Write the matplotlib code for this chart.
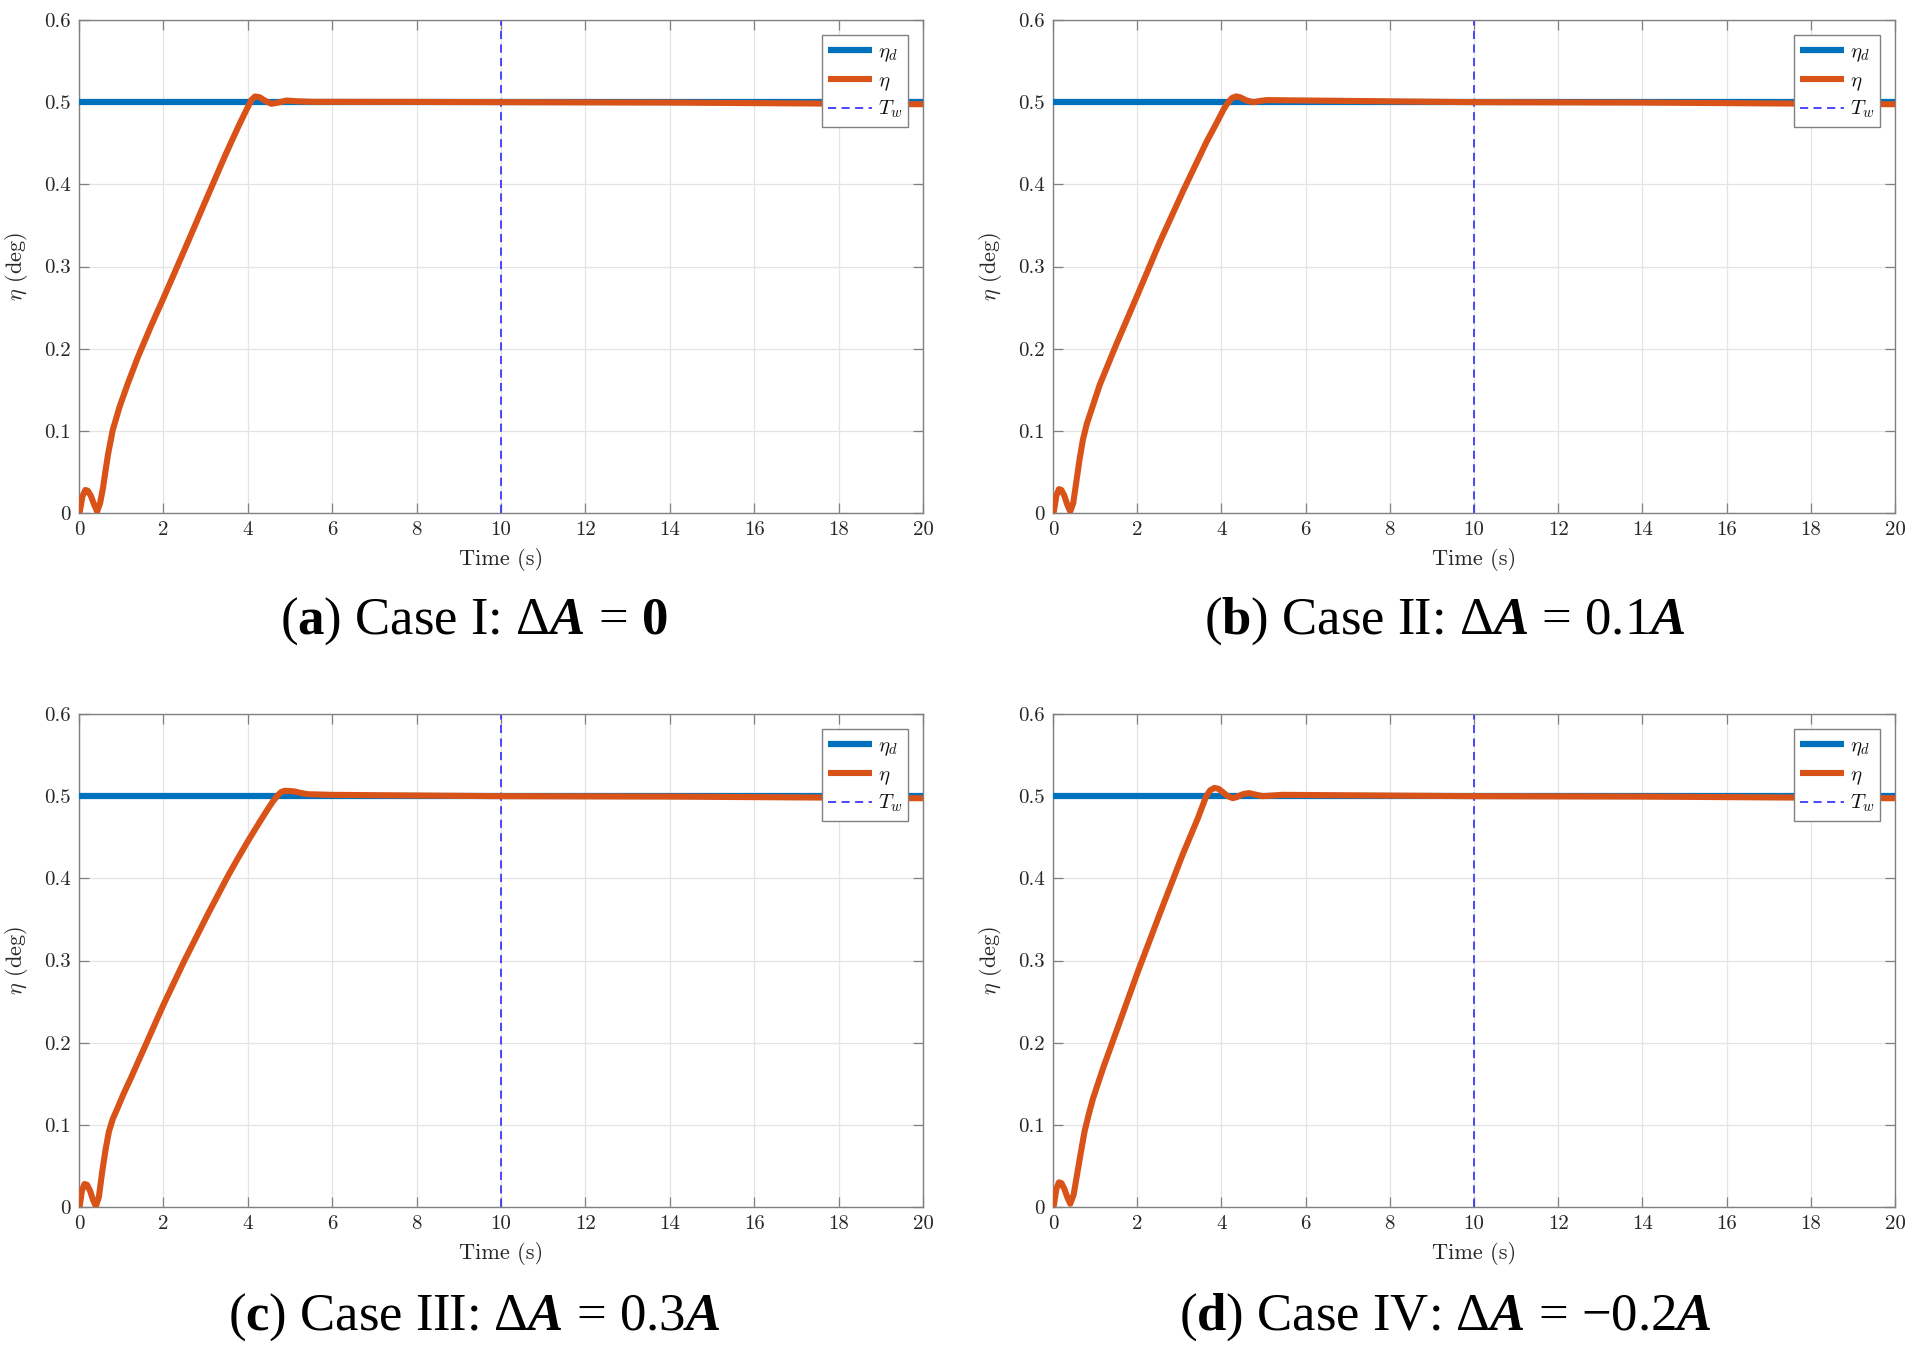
import matplotlib
matplotlib.use("Agg")
import matplotlib.pyplot as plt

plt.rcParams['mathtext.fontset'] = 'custom'
plt.rcParams['mathtext.rm'] = 'Liberation Serif'
plt.rcParams['mathtext.it'] = 'Liberation Serif:italic'
plt.rcParams['mathtext.bf'] = 'Liberation Serif:bold'
plt.rcParams['mathtext.bfit'] = 'Liberation Serif:bold:italic'

# ---------------- data ----------------
t_end = 20
eta_d_value = 0.5
T_w = 10

t_a = [0, 0.02, 0.08, 0.15, 0.21, 0.28, 0.36, 0.43, 0.50, 0.57, 0.63, 0.69, 0.80, 0.96, 1.16, 1.39,
       1.71, 1.98, 2.54, 3.0, 3.48, 3.8, 4.0, 4.09, 4.17, 4.28, 4.40, 4.56, 4.72, 4.91, 5.2, 5.54,
       8, 10, 14, 17, 20]
eta_a = [0, 0.002, 0.020, 0.028, 0.027, 0.021, 0.010, 0.002, 0.012, 0.031, 0.052, 0.072, 0.101, 0.129,
         0.158, 0.189, 0.228, 0.259, 0.325, 0.380, 0.437, 0.473, 0.494, 0.503, 0.5069, 0.506, 0.502,
         0.498, 0.4995, 0.502, 0.501, 0.5004, 0.5003, 0.5, 0.4995, 0.4985, 0.4975]

t_b = [0, 0.02, 0.08, 0.14, 0.20, 0.27, 0.34, 0.41, 0.48, 0.56, 0.63, 0.71, 0.80, 0.91, 1.11, 1.51,
       2.02, 2.54, 3.10, 3.65, 3.90, 4.05, 4.15, 4.25, 4.35, 4.44, 4.60, 4.76, 4.92, 5.08, 6.03,
       10, 14, 17, 20]
eta_b = [0, 0.002, 0.021, 0.029, 0.028, 0.021, 0.010, 0.002, 0.012, 0.040, 0.065, 0.089, 0.108, 0.125,
         0.156, 0.206, 0.267, 0.330, 0.393, 0.452, 0.476, 0.491, 0.499, 0.505, 0.507, 0.506, 0.502,
         0.500, 0.5015, 0.5025, 0.502, 0.5, 0.4995, 0.4985, 0.4975]

t_c = [0, 0.02, 0.07, 0.13, 0.19, 0.26, 0.33, 0.40, 0.47, 0.55, 0.63, 0.71, 0.80, 0.91, 1.05, 1.23,
       1.62, 2.0, 2.49, 3.05, 3.52, 3.75, 4.0, 4.25, 4.47, 4.60, 4.71, 4.79, 4.87, 5.0, 5.11, 5.25,
       5.42, 5.98, 10, 14, 17, 20]
eta_c = [0, 0.002, 0.020, 0.028, 0.027, 0.020, 0.009, 0.001, 0.012, 0.043, 0.070, 0.092, 0.107, 0.120,
         0.137, 0.157, 0.202, 0.246, 0.299, 0.356, 0.402, 0.423, 0.445, 0.466, 0.484, 0.494, 0.501,
         0.505, 0.5065, 0.5063, 0.5057, 0.504, 0.5024, 0.5016, 0.5, 0.4995, 0.4985, 0.4975]

t_d = [0, 0.02, 0.08, 0.14, 0.20, 0.27, 0.34, 0.41, 0.49, 0.57, 0.66, 0.75, 0.85, 0.95, 1.19, 1.50,
       2.02, 2.53, 3.08, 3.44, 3.55, 3.64, 3.73, 3.83, 3.93, 4.03, 4.15, 4.27, 4.37, 4.47, 4.56,
       4.66, 4.80, 4.98, 5.45, 10, 14, 17, 20]
eta_d = [0, 0.002, 0.022, 0.030, 0.029, 0.022, 0.012, 0.004, 0.015, 0.039, 0.066, 0.092, 0.113, 0.132,
         0.169, 0.213, 0.287, 0.356, 0.429, 0.473, 0.488, 0.500, 0.507, 0.510, 0.509, 0.505, 0.500,
         0.4976, 0.4990, 0.5016, 0.503, 0.5037, 0.502, 0.500, 0.5016, 0.5, 0.4995, 0.4985, 0.4975]

x_ticks = [0, 2, 4, 6, 8, 10, 12, 14, 16, 18, 20]
x_tick_labels = ['0', '2', '4', '6', '8', '10', '12', '14', '16', '18', '20']
y_ticks = [0, 0.1, 0.2, 0.3, 0.4, 0.5, 0.6]
y_tick_labels = ['0', '0.1', '0.2', '0.3', '0.4', '0.5', '0.6']

captions = [r'($\mathbf{a}$) Case I: $\Delta\mathbfit{A}$ = $\mathbf{0}$',
            r'($\mathbf{b}$) Case II: $\Delta\mathbfit{A}$ = 0.1$\mathbfit{A}$',
            r'($\mathbf{c}$) Case III: $\Delta\mathbfit{A}$ = 0.3$\mathbfit{A}$',
            r'($\mathbf{d}$) Case IV: $\Delta\mathbfit{A}$ = −0.2$\mathbfit{A}$']

series = [(t_a, eta_a), (t_b, eta_b), (t_c, eta_c), (t_d, eta_d)]

# ---------------- layout ----------------
W, H = 1917, 1352
fig = plt.figure(figsize=(W / 100, H / 100), dpi=100)

boxes = [(79, 20, 923, 513), (1053, 20, 1895, 513), (79, 714, 923, 1207), (1053, 714, 1895, 1207)]
cap_pos = [(474, 621), (1445, 621), (474, 1317), (1445, 1317)]
blue = '#0072BD'
orange = '#D95319'
edge = '#808080'
txt = '#262626'

for i, ((l, tp, r, b), (tt, ee)) in enumerate(zip(boxes, series)):
    ax = fig.add_axes([l / W, 1 - b / H, (r - l) / W, (b - tp) / H])
    ax.plot([0, t_end], [eta_d_value, eta_d_value], color=blue, lw=4.5, label=r'$\eta_d$',
            solid_capstyle='butt', zorder=3)
    ax.plot(tt, ee, color=orange, lw=4.4, label=r'$\eta$', zorder=4,
            solid_joinstyle='round', solid_capstyle='butt')
    ax.axvline(T_w, color='#3a3aff', lw=1.3, ls=(0, (4.5, 3.0)), label=r'$T_w$', zorder=2)
    ax.set_xlim(0, t_end)
    ax.set_ylim(0, 0.6)
    ax.set_xticks(x_ticks)
    ax.set_xticklabels(x_tick_labels, fontfamily='cmr10', fontsize=15, color=txt)
    ax.set_yticks(y_ticks)
    ax.set_yticklabels(y_tick_labels, fontfamily='cmr10', fontsize=15, color=txt)
    ax.tick_params(direction='in', length=7, width=0.9, color=edge, top=True, right=True, pad=6)
    ax.grid(True, color='#e4e4e4', lw=0.9)
    ax.set_axisbelow(True)
    for s in ax.spines.values():
        s.set_color(edge)
        s.set_linewidth(1.0)
    ax.set_xlabel('Time (s)', fontfamily='cmr10', fontsize=16, color=txt, labelpad=6)
    ax.set_ylabel(r'$\eta$ (deg)', fontfamily='cmr10', fontsize=16, color=txt, labelpad=10,
                  math_fontfamily='cm')
    leg = ax.legend(loc='upper right', fontsize=15, frameon=True, fancybox=False, framealpha=1,
                    edgecolor=edge, handlelength=2.1, labelspacing=0.3, borderpad=0.3,
                    handletextpad=0.3, borderaxespad=0.7)
    leg.get_frame().set_linewidth(1.0)
    for tx in leg.get_texts():
        tx.set_math_fontfamily('cm')
        tx.set_color('#111111')
    cx, cy = cap_pos[i]
    fig.text(cx / W, 1 - cy / H, captions[i], fontfamily='Liberation Serif', fontsize=38,
             ha='center', va='center', color='black', math_fontfamily='custom')

fig.savefig('out.png', dpi=100)
